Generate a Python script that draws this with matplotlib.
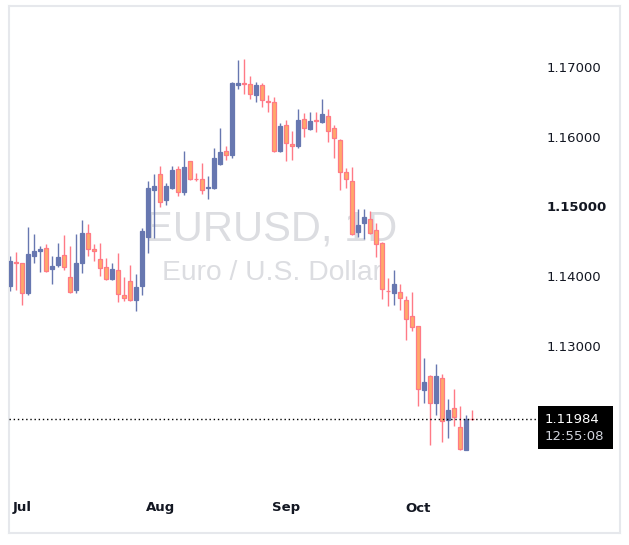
import matplotlib
matplotlib.use("Agg")
import matplotlib.pyplot as plt
from matplotlib.patches import Rectangle
from matplotlib.transforms import blended_transform_factory

# ---- data (daily EURUSD candles) ----
opens = [1.1389, 1.1423, 1.1422, 1.1378, 1.1432, 1.1438, 1.1443, 1.1413, 1.1418, 1.1433,
         1.1401, 1.1383, 1.1422, 1.1464, 1.1441, 1.1427, 1.1416, 1.1398, 1.1411, 1.1376,
         1.1395, 1.1368, 1.1389, 1.1459, 1.1526, 1.1549, 1.1511, 1.1528, 1.1556, 1.1523,
         1.1567, 1.1542, 1.1541, 1.1528, 1.1528, 1.1563, 1.1582, 1.1576, 1.1676, 1.1678,
         1.1677, 1.1662, 1.1675, 1.1653, 1.1651, 1.1581, 1.1619, 1.1591, 1.1588, 1.1627,
         1.1613, 1.1625, 1.1623, 1.1632, 1.1614, 1.1597, 1.1551, 1.1539, 1.1466, 1.1479,
         1.1484, 1.1468, 1.1450, 1.1382, 1.1378, 1.1380, 1.1369, 1.1345, 1.1331, 1.1240,
         1.1260, 1.1221, 1.1257, 1.1197, 1.1214, 1.1187, 1.1154, 1.1199]
highs = [1.1431, 1.1437, 1.1422, 1.1473, 1.1463, 1.1446, 1.1449, 1.1431, 1.1450, 1.1461,
         1.1446, 1.1463, 1.1483, 1.1477, 1.1449, 1.1450, 1.1429, 1.1422, 1.1435, 1.1402,
         1.1418, 1.1405, 1.1471, 1.1538, 1.1549, 1.1560, 1.1535, 1.1560, 1.1560, 1.1581,
         1.1567, 1.1550, 1.1564, 1.1546, 1.1586, 1.1614, 1.1589, 1.1680, 1.1711, 1.1713,
         1.1689, 1.1680, 1.1679, 1.1661, 1.1659, 1.1621, 1.1626, 1.1610, 1.1641, 1.1635,
         1.1637, 1.1637, 1.1656, 1.1642, 1.1619, 1.1599, 1.1557, 1.1558, 1.1499, 1.1499,
         1.1495, 1.1479, 1.1452, 1.1400, 1.1411, 1.1391, 1.1374, 1.1380, 1.1331, 1.1285,
         1.1261, 1.1277, 1.1263, 1.1227, 1.1242, 1.1217, 1.1204, 1.1211]
lows = [1.1382, 1.1383, 1.1362, 1.1376, 1.1422, 1.1409, 1.1409, 1.1392, 1.1416, 1.1412,
        1.1378, 1.1379, 1.1407, 1.1431, 1.1424, 1.1403, 1.1397, 1.1397, 1.1365, 1.1367,
        1.1367, 1.1353, 1.1375, 1.1435, 1.1457, 1.1502, 1.1504, 1.1527, 1.1517, 1.1519,
        1.1540, 1.1539, 1.1520, 1.1513, 1.1527, 1.1562, 1.1568, 1.1572, 1.1670, 1.1663,
        1.1656, 1.1652, 1.1644, 1.1637, 1.1580, 1.1580, 1.1567, 1.1568, 1.1585, 1.1601,
        1.1611, 1.1609, 1.1621, 1.1594, 1.1571, 1.1525, 1.1528, 1.1462, 1.1459, 1.1456,
        1.1463, 1.1430, 1.1370, 1.1360, 1.1362, 1.1354, 1.1312, 1.1324, 1.1217, 1.1222,
        1.1162, 1.1204, 1.1165, 1.1172, 1.1188, 1.1154, 1.1154, 1.1197]
closes = [1.1424, 1.1422, 1.1379, 1.1434, 1.1439, 1.1441, 1.1410, 1.1417, 1.1430, 1.1415,
          1.1380, 1.1421, 1.1464, 1.1441, 1.1438, 1.1414, 1.1398, 1.1413, 1.1377, 1.1371,
          1.1368, 1.1387, 1.1467, 1.1528, 1.1531, 1.1508, 1.1532, 1.1554, 1.1523, 1.1559,
          1.1542, 1.1541, 1.1525, 1.1530, 1.1571, 1.1580, 1.1575, 1.1679, 1.1679, 1.1677,
          1.1663, 1.1676, 1.1654, 1.1652, 1.1582, 1.1617, 1.1593, 1.1588, 1.1626, 1.1614,
          1.1624, 1.1624, 1.1634, 1.1610, 1.1600, 1.1551, 1.1541, 1.1463, 1.1476, 1.1487,
          1.1464, 1.1448, 1.1384, 1.1381, 1.1391, 1.1371, 1.1341, 1.1330, 1.1242, 1.1252,
          1.1222, 1.1260, 1.1195, 1.1211, 1.1201, 1.1155, 1.1198, 1.11984]

month_labels = ["Jul", "Aug", "Sep", "Oct"]
month_index = [2, 25, 46, 68]
price_ticks = [1.17, 1.16, 1.15, 1.14, 1.13]
bold_tick = 1.15
last_price = 1.11984
last_time = "12:55:08"
title_main = "EURUSD, 1D"
title_sub = "Euro / U.S. Dollar"

UP = "#6777B0"
DOWN_FILL = "#FFA96A"
DOWN_EDGE = "#FF7A86"

W, H = 629, 545
fig = plt.figure(figsize=(W / 100, H / 100), dpi=100)
fig.patch.set_facecolor("white")

# axes spanning the framed chart region
l_px, r_px, t_px, b_px = 9, 620, 6, 533
ax = fig.add_axes([l_px / W, 1 - b_px / H, (r_px - l_px) / W, (b_px - t_px) / H])
ax.set_facecolor("white")

step = 6.0          # px per candle
x0_px = 10.3        # px of first candle
ppx = 7000.0        # px per 1.0 price
ref_px, ref_price = 68, 1.17
ax.set_xlim((l_px - x0_px) / step, (r_px - x0_px) / step)
ax.set_ylim(ref_price - (b_px - ref_px) / ppx, ref_price + (ref_px - t_px) / ppx)

for s in ax.spines.values():
    s.set_color("#E6E8EC")
    s.set_linewidth(1.5)
ax.set_xticks([])
ax.set_yticks([])

# watermark
wm_family = ["Liberation Sans", "DejaVu Sans"]
ax.text((271 - l_px) / (r_px - l_px), (b_px - 229) / (b_px - t_px), title_main,
        transform=ax.transAxes, ha="center", va="center", fontsize=30,
        color="#DCDDE1", zorder=0, family=wm_family)
ax.text((272 - l_px) / (r_px - l_px), (b_px - 273) / (b_px - t_px), title_sub,
        transform=ax.transAxes, ha="center", va="center", fontsize=20.3,
        color="#DCDDE1", zorder=0, family=wm_family)

# candles
width = 0.72
for i, (o, h, lo, c) in enumerate(zip(opens, highs, lows, closes)):
    up = c > o
    wick_col = UP if up else DOWN_EDGE
    fill = UP if up else DOWN_FILL
    edge = UP if up else DOWN_EDGE
    ax.vlines(i, lo, h, color=wick_col, linewidth=1.0, zorder=2)
    bottom = min(o, c)
    height = max(abs(c - o), 0.00002)
    ax.add_patch(Rectangle((i - width / 2, bottom), width, height,
                           facecolor=fill, edgecolor=edge, linewidth=0.9, zorder=3))

blend = blended_transform_factory(ax.transAxes, ax.transData)

# price scale labels
lab_x = (547 - l_px) / (r_px - l_px)
for p in price_ticks:
    ax.text(lab_x, p, f"{p:.5f}", transform=blend, ha="left", va="center",
            fontsize=9.5, color="#131722",
            fontweight="bold" if abs(p - bold_tick) < 1e-9 else "normal")

# last price dotted line and label
xe = (537 - l_px) / (r_px - l_px)
ax.plot([0, xe], [last_price, last_price], transform=blend, color="black",
        linestyle=(0, (1, 2)), linewidth=1.0, zorder=4)
bx0 = (538 - l_px) / (r_px - l_px)
bx1 = (613 - l_px) / (r_px - l_px)
ytop = ref_price - (406 - ref_px) / ppx
ybot = ref_price - (449 - ref_px) / ppx
ax.add_patch(Rectangle((bx0, ybot), bx1 - bx0, ytop - ybot, transform=blend,
                       facecolor="black", edgecolor="none", zorder=5))
ax.text(lab_x - 2 / (r_px - l_px), last_price, f"{last_price:.5f}", transform=blend,
        ha="left", va="center", fontsize=9.5, color="white", zorder=6)
ax.text(lab_x - 2 / (r_px - l_px), ref_price - (437 - ref_px) / ppx, last_time,
        transform=blend, ha="left", va="center", fontsize=9.5, color="#D1D4DC", zorder=6)

# month labels
blend_x = blended_transform_factory(ax.transData, ax.transAxes)
for lab, idx in zip(month_labels, month_index):
    ax.text(idx, (b_px - 508) / (b_px - t_px), lab, transform=blend_x, ha="center",
            va="center", fontsize=9.5, fontweight="bold", color="#131722")

fig.savefig("out.png", dpi=100, facecolor="white")
